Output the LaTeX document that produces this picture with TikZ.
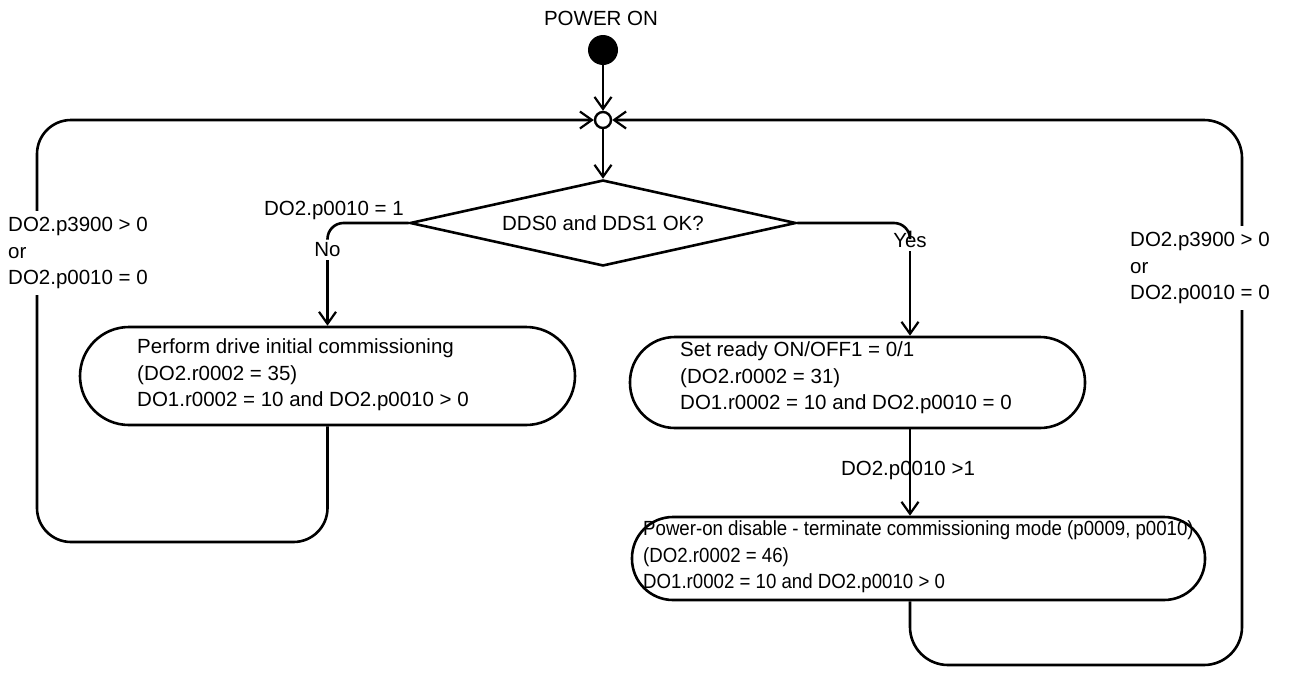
\documentclass[tikz,border=0pt]{standalone}
\usepackage{fontspec}
\setmainfont{Liberation Sans}
\usetikzlibrary{arrows.meta,shapes.geometric}
\begin{document}
\begin{tikzpicture}[x=1pt,y=-1pt,
  every node/.style={font=\fontsize{20.5}{26.5}\selectfont, inner sep=0pt},
  ln/.style={line width=2.6pt},
  arr/.style={ln, -{Straight Barb[length=12pt,width=17pt,line width=2.2pt]}},
  box/.style={draw, line width=2.6pt, rectangle},
  lbl/.style={align=left},
  mask/.style={fill=white, inner ysep=6pt, inner xsep=2pt}]
\path[use as bounding box] (0,0) rectangle (1293,672);
% nodes
\node (pon) at (601,18) {POWER ON};
\node[circle, fill=black, minimum size=30pt] (start) at (603,50) {};
\node[circle, draw, line width=2.4pt, fill=white, minimum size=16pt] (merge) at (603,120) {};
\node[draw, ln, diamond, minimum width=386pt, minimum height=86pt, aspect=4.5] (dia) at (603,223) {DDS0 and DDS1 OK?};
\node[box, rounded corners=49pt, minimum width=495pt, minimum height=98pt] (lb) at (327.5,376) {};
\node[anchor=west, lbl] (lbt) at (137,375) {Perform drive initial commissioning\\(DO2.r0002 = 35)\\DO1.r0002 = 10 and DO2.p0010 > 0};
\node[box, rounded corners=45pt, minimum width=455pt, minimum height=91pt] (rb) at (857.5,382.5) {};
\node[anchor=west, lbl] (rbt) at (680,378) {Set ready ON/OFF1 = 0/1\\(DO2.r0002 = 31)\\DO1.r0002 = 10 and DO2.p0010 = 0};
\node[box, rounded corners=41pt, minimum width=573pt, minimum height=83pt] (bb) at (918.5,558.5) {};
\node[anchor=west] (bbt) at (643,557) {\scalebox{0.91}[1]{\begin{tabular}{@{}l@{}}Power-on disable - terminate commissioning mode (p0009, p0010)\\(DO2.r0002 = 46)\\DO1.r0002 = 10 and DO2.p0010 > 0\end{tabular}}};
\node[anchor=east] (c1) at (404,210) {DO2.p0010 = 1};
\node[inner sep=3pt] (no) at (327.5,250) {No};
\node[inner sep=3pt] (yes) at (910,241) {Yes};
\node (c2) at (908,470) {DO2.p0010 >1};
\coordinate (LL) at (37,542);
\coordinate (RR) at (1242,665);
% connectors
\draw[arr] (start) -- (merge);
\draw[arr] (merge) -- (dia.north);
\draw[ln, rounded corners=16pt] (dia.west) -| (no.north);
\draw[arr] (no) -- (lb);
\draw[ln, rounded corners=16pt] (dia.east) -| (yes.north);
\draw[arr] (yes.south) -- (yes.south |- rb.north);
\draw[arr] (yes.south |- rb.south) -- (yes.south |- bb.north);
\draw[arr, rounded corners=34pt] (lb.south) |- (LL) |- (merge.west);
\draw[arr, rounded corners=38pt] (yes.south |- bb.south) |- (RR) |- (merge.east);
% side labels masking the loop lines
\node[anchor=west, lbl, mask] (c3) at (6,253) {DO2.p3900 > 0\\or\\DO2.p0010 = 0};
\node[anchor=west, lbl, mask] (c4) at (1128,268) {DO2.p3900 > 0\\or\\DO2.p0010 = 0};
\end{tikzpicture}
\end{document}
